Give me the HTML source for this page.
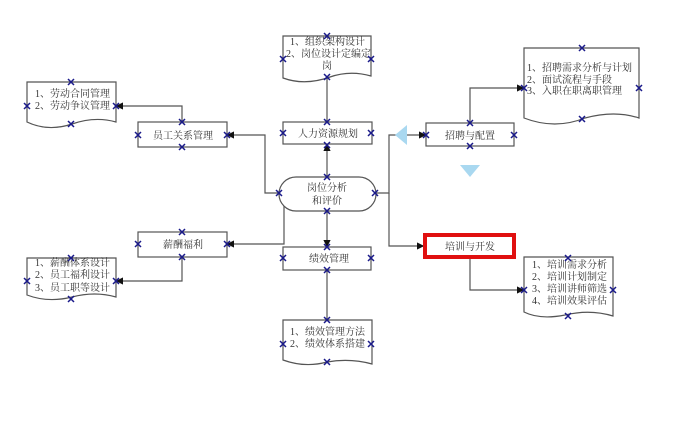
<!DOCTYPE html>
<html><head><meta charset="utf-8"><style>
body{margin:0;background:#fff;}
svg text{font-family:"Liberation Serif","Noto Serif CJK SC",serif;font-size:10px;fill:#333;}
</style></head><body>
<svg width="678" height="432" xmlns="http://www.w3.org/2000/svg">
<defs>
<marker id="a" markerWidth="6" markerHeight="6" refX="5" refY="3" orient="auto"><path d="M0,0 L6,3 L0,6z" fill="#111"/></marker>
<g id="x"><path d="M-3,-3 L3,3 M-3,3 L3,-3" stroke="#1a1a8a" stroke-width="1.5"/></g>
</defs>
<g fill="none" stroke="#555" stroke-width="1.2">
<line x1="327" y1="77" x2="327" y2="122"/>
<line x1="327" y1="177" x2="327" y2="145" marker-end="url(#a)"/>
<line x1="327" y1="211" x2="327" y2="246" marker-end="url(#a)"/>
<line x1="327" y1="270" x2="327" y2="320"/>
<polyline points="279,193 265,193 265,135 228,135" marker-end="url(#a)"/>
<polyline points="182,122 182,106 117,106" marker-end="url(#a)"/>
<polyline points="284,200 284,244 228,244" marker-end="url(#a)"/>
<polyline points="182,257 182,281 117,281" marker-end="url(#a)"/>
<polyline points="376,193 389,193 389,135 425,135" marker-end="url(#a)"/>
<polyline points="389,193 389,246 423,246" marker-end="url(#a)"/>
<polyline points="470,123 470,88 523,88" marker-end="url(#a)"/>
<polyline points="470,258 470,290 523,290" marker-end="url(#a)"/>
</g>
<g fill="#fff" stroke="#555" stroke-width="1.2">
<path d="M283,36 H371 V76 Q350,70 330,77 Q305,86 283,78 Z"/>
<path d="M27,82 H116 V122 Q95,116 72,124 Q48,132 27,122 Z"/>
<path d="M27,258 H116 V297 Q95,291 72,297 Q48,303 27,295 Z"/>
<path d="M283,320 H372 V364 Q350,358 327,362 Q305,368 283,360 Z"/>
<path d="M524,48 H639 V118 Q615,110 585,118 Q555,130 524,118 Z"/>
<path d="M524,257 H613 V316 Q590,309 565,315 Q540,320 524,312 Z"/>
<rect x="138" y="122" width="89" height="25"/>
<rect x="283" y="122" width="89" height="22"/>
<rect x="138" y="232" width="89" height="25"/>
<rect x="283" y="247" width="88" height="23"/>
<rect x="426" y="123" width="88" height="23"/>
<rect x="279" y="177" width="97" height="34" rx="17"/>
</g>
<rect x="425" y="235" width="89" height="22" fill="#fff" stroke="#e01010" stroke-width="4"/>
<path d="M407,125 L395,135 L407,145 Z" fill="#a9d8f0"/>
<path d="M460,165 L480,165 L470,177 Z" fill="#a9d8f0"/>
<text x="290" y="45">1、组织架构设计</text>
<text x="286" y="57">2、岗位设计定编定</text>
<text x="322" y="69">岗</text>
<text x="35" y="97">1、劳动合同管理</text>
<text x="35" y="109">2、劳动争议管理</text>
<text x="153" y="139">员工关系管理</text>
<text x="298" y="137">人力资源规划</text>
<text x="307" y="191">岗位分析</text>
<text x="312" y="204">和评价</text>
<text x="445" y="139">招聘与配置</text>
<text x="527" y="71">1、招聘需求分析与计划</text>
<text x="527" y="83">2、面试流程与手段</text>
<text x="527" y="94">3、入职在职离职管理</text>
<text x="163" y="248">薪酬福利</text>
<text x="35" y="266">1、薪酬体系设计</text>
<text x="35" y="278">2、员工福利设计</text>
<text x="35" y="291">3、员工职等设计</text>
<text x="309" y="262">绩效管理</text>
<text x="290" y="335">1、绩效管理方法</text>
<text x="290" y="347">2、绩效体系搭建</text>
<text x="445" y="250">培训与开发</text>
<text x="532" y="268">1、培训需求分析</text>
<text x="532" y="280">2、培训计划制定</text>
<text x="532" y="292">3、培训讲师筛选</text>
<text x="532" y="304">4、培训效果评估</text>
<use href="#x" x="327" y="36"/><use href="#x" x="283" y="59"/><use href="#x" x="371" y="59"/><use href="#x" x="327" y="77"/>
<use href="#x" x="71" y="82"/><use href="#x" x="27" y="106"/><use href="#x" x="116" y="106"/><use href="#x" x="71" y="124"/>
<use href="#x" x="182" y="122"/><use href="#x" x="138" y="135"/><use href="#x" x="227" y="135"/><use href="#x" x="182" y="147"/>
<use href="#x" x="327" y="122"/><use href="#x" x="283" y="133"/><use href="#x" x="371" y="133"/><use href="#x" x="327" y="145"/>
<use href="#x" x="327" y="177"/><use href="#x" x="279" y="193"/><use href="#x" x="375" y="193"/><use href="#x" x="327" y="211"/>
<use href="#x" x="182" y="232"/><use href="#x" x="138" y="244"/><use href="#x" x="227" y="244"/><use href="#x" x="182" y="257"/>
<use href="#x" x="71" y="258"/><use href="#x" x="27" y="281"/><use href="#x" x="116" y="281"/><use href="#x" x="71" y="299"/>
<use href="#x" x="327" y="247"/><use href="#x" x="283" y="258"/><use href="#x" x="371" y="258"/><use href="#x" x="327" y="270"/>
<use href="#x" x="327" y="320"/><use href="#x" x="283" y="344"/><use href="#x" x="371" y="344"/><use href="#x" x="327" y="362"/>
<use href="#x" x="470" y="123"/><use href="#x" x="426" y="135"/><use href="#x" x="514" y="135"/><use href="#x" x="470" y="146"/>
<use href="#x" x="582" y="48"/><use href="#x" x="524" y="88"/><use href="#x" x="639" y="88"/><use href="#x" x="582" y="119"/>
<use href="#x" x="568" y="258"/><use href="#x" x="524" y="290"/><use href="#x" x="613" y="290"/><use href="#x" x="568" y="316"/>
</svg>
</body></html>
